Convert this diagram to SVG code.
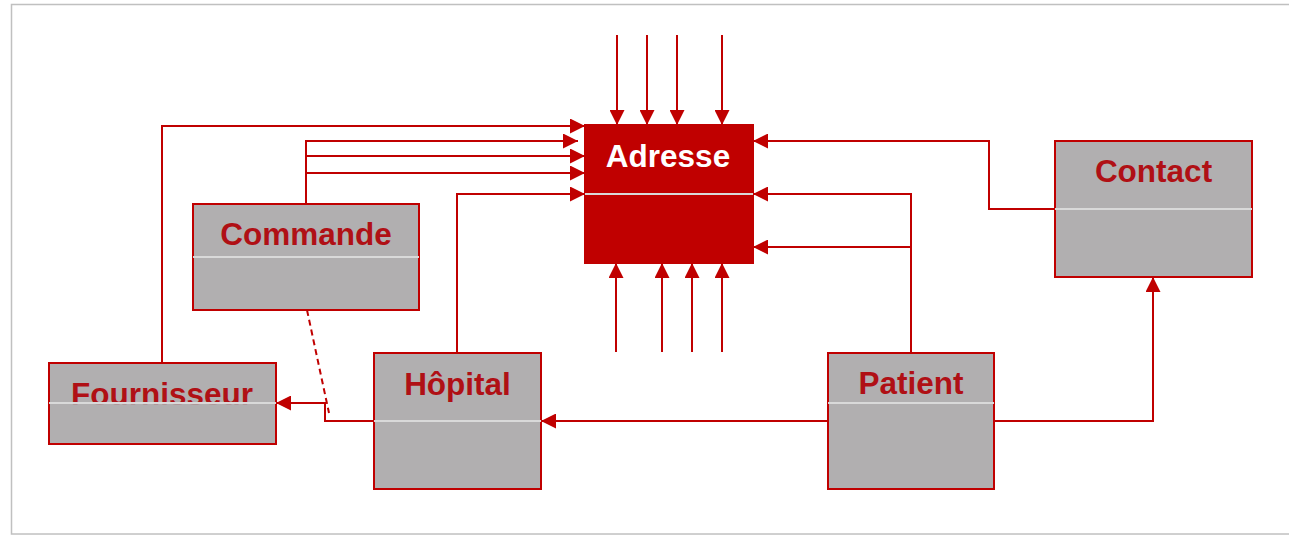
<svg xmlns="http://www.w3.org/2000/svg" width="1289" height="535" viewBox="0 0 1289 535">
<style>
.box{fill:#B1AFB0;stroke:#C00000;stroke-width:2}
.div{stroke:#D9D9D9;stroke-width:2}
.lbl{font-family:"Liberation Sans",Arial,sans-serif;font-weight:bold;font-size:31.5px;fill:#B01015;text-anchor:middle}
.conn path{fill:none;stroke:#C00000;stroke-width:2}
.arr{marker-end:url(#ah)}
</style>
<defs>
<marker id="ah" viewBox="0 0 15 15" refX="15" refY="7.5" markerWidth="15" markerHeight="15" orient="auto" markerUnits="userSpaceOnUse">
<path d="M0,0 L15,7.5 L0,15 z" fill="#C00000"/>
</marker>
</defs>
<rect x="11.5" y="4.5" width="1290" height="529.5" fill="#FFFFFF" stroke="#C0C0C0" stroke-width="1.5"/>
<g id="connectors" class="conn">
<path class="arr" d="M617,35 V125"/>
<path class="arr" d="M647,35 V125"/>
<path class="arr" d="M677,35 V125"/>
<path class="arr" d="M722,35 V125"/>
<path class="arr" d="M616,352 V263"/>
<path class="arr" d="M662,352 V263"/>
<path class="arr" d="M692,352 V263"/>
<path class="arr" d="M722,352 V263"/>
<path class="arr" d="M162,363 V126 H585"/>
<path class="arr" d="M306,204 V141 H578"/>
<path class="arr" d="M306,156 H585"/>
<path class="arr" d="M306,173 H585"/>
<path class="arr" d="M457,353 V194 H585"/>
<path class="arr" d="M1055,209 H989 V141 H753"/>
<path class="arr" d="M911,353 V194 H753"/>
<path class="arr" d="M911,247 H753"/>
<path class="arr" d="M828,421 H541"/>
<path class="arr" d="M374,421 H325 V403 H276"/>
<path class="arr" d="M994,421 H1153 V277"/>
<path d="M307,310 L329,413" stroke-dasharray="6,4"/>
</g>
<g id="adresse">
<rect x="585" y="125" width="168" height="138" fill="#C00000" stroke="#C00000" stroke-width="2"/>
<text x="668" y="167" class="lbl" style="fill:#FFFFFF">Adresse</text>
<line x1="585" y1="194" x2="753" y2="194" class="div"/>
</g>
<g id="commande">
<rect x="193" y="204" width="226" height="106" class="box"/>
<text x="306" y="244.5" class="lbl">Commande</text>
<line x1="193" y1="257" x2="419" y2="257" class="div"/>
</g>
<g id="fournisseur">
<rect x="49" y="363" width="227" height="81" class="box"/>
<text x="162" y="404.5" class="lbl">Fournisseur</text>
<rect x="50" y="404" width="225" height="39" fill="#B1AFB0" fill-opacity="0.85"/>
<line x1="49" y1="403" x2="276" y2="403" class="div"/>
</g>
<g id="hopital">
<rect x="374" y="353" width="167" height="136" class="box"/>
<text x="457.5" y="394.5" class="lbl">Hôpital</text>
<line x1="374" y1="421" x2="541" y2="421" class="div"/>
</g>
<g id="patient">
<rect x="828" y="353" width="166" height="136" class="box"/>
<text x="911" y="393.5" class="lbl">Patient</text>
<line x1="828" y1="403" x2="994" y2="403" class="div"/>
</g>
<g id="contact">
<rect x="1055" y="141" width="197" height="136" class="box"/>
<text x="1153.5" y="182" class="lbl">Contact</text>
<line x1="1055" y1="209" x2="1252" y2="209" class="div"/>
</g>
</svg>
